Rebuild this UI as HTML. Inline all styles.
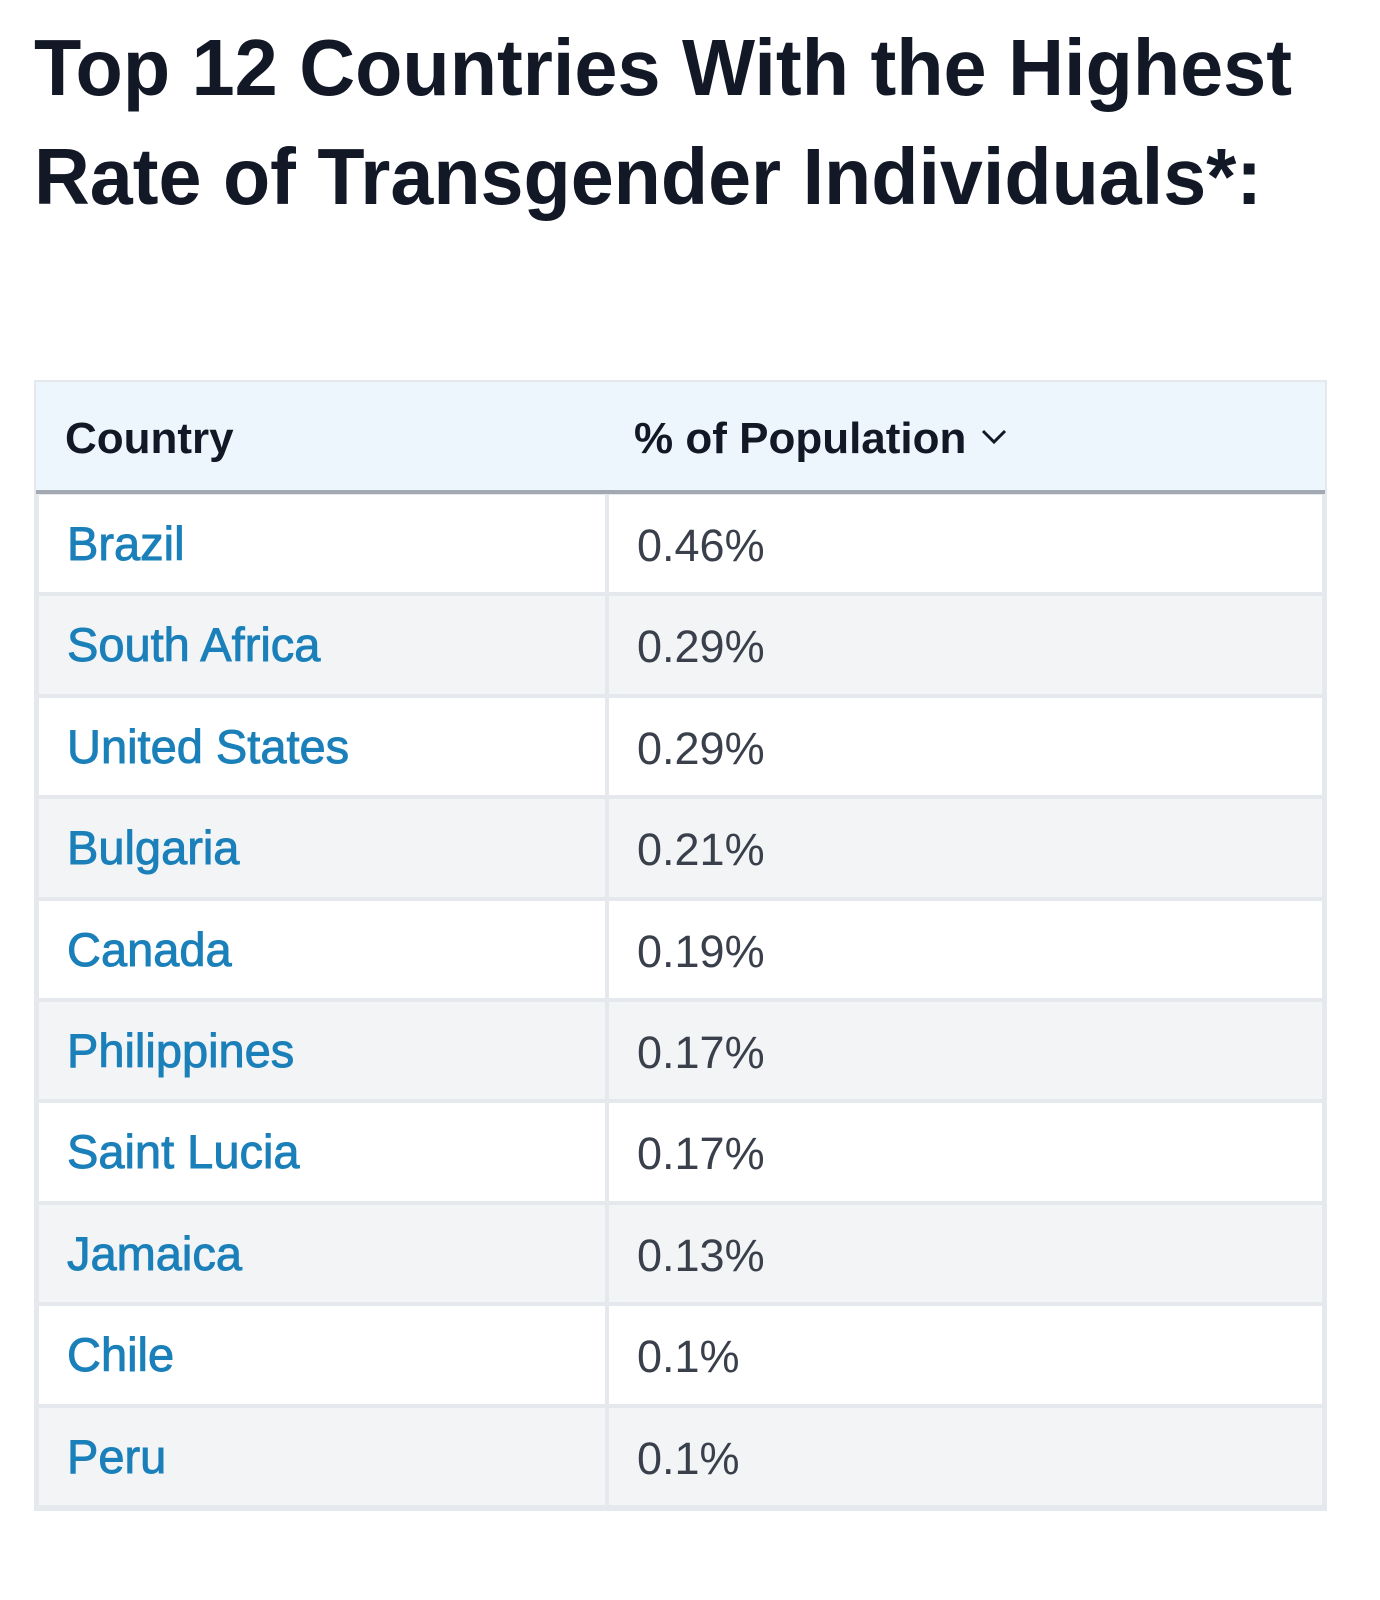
<!DOCTYPE html>
<html><head><meta charset="utf-8">
<style>
body{margin:0;width:1380px;height:1600px;background:#fff;position:relative;overflow:hidden;font-family:"Liberation Sans",sans-serif}
.abs{position:absolute}
.cell{position:absolute;box-sizing:border-box}
.txt{position:absolute;white-space:nowrap;line-height:1}
</style></head><body>
<svg class="abs" style="left:0;top:0" width="1380" height="240">
<text x="34" y="95" font-family="Liberation Sans, sans-serif" font-weight="bold" font-size="80" fill="#121826" textLength="1258" lengthAdjust="spacingAndGlyphs">Top 12 Countries With the Highest</text>
<text x="34" y="204" font-family="Liberation Sans, sans-serif" font-weight="bold" font-size="80" fill="#121826" textLength="1228" lengthAdjust="spacingAndGlyphs">Rate of Transgender Individuals*:</text>
</svg>
<div id="table" class="abs" style="left:34px;top:380px;width:1293px;height:1131px;background:#e5e8ec">
  <div class="cell" style="left:2px;top:2px;width:1289px;height:108px;background:#eef6fd"></div>
  <div class="cell" style="left:2px;top:110px;width:1289px;height:4px;background:#a3a9b2"></div>
  <div class="txt" style="left:31px;top:37px;font-size:44px;font-weight:bold;color:#121826">Country</div>
  <div class="txt" style="left:600px;top:37px;font-size:44px;font-weight:bold;color:#121826">% of Population</div>
  <svg class="abs" style="left:946px;top:48px" width="28" height="18"><polyline points="3,3 14,14 25,3" fill="none" stroke="#121826" stroke-width="3"/></svg>
</div>
<script>
const countries=["Brazil","South Africa","United States","Bulgaria","Canada","Philippines","Saint Lucia","Jamaica","Chile","Peru"];
const values=[0.46,0.29,0.29,0.21,0.19,0.17,0.17,0.13,0.1,0.1];
const table=document.getElementById('table');
const top0=115, pitch=101.4;
countries.forEach((c,i)=>{
  const y=top0+i*pitch;
  const bg=i%2===0?'#ffffff':'#f2f4f6';
  const a=document.createElement('div');
  a.className='cell';
  
  
  a.style.cssText=`left:5px;top:${y}px;width:566px;height:${pitch-4}px;background:${bg}`;
  table.appendChild(a);
  const b=document.createElement('div');
  b.className='cell';
  
  
  b.style.cssText=`left:575px;top:${y}px;width:713px;height:${pitch-4}px;background:${bg}`;
  table.appendChild(b);
  const t=document.createElement('div');
  t.className='txt';
  
  
  t.textContent=c;
  t.style.cssText=`left:33px;top:${y+25}px;font-size:47px;color:#1b80b9;-webkit-text-stroke:0.9px #1b80b9`;
  table.appendChild(t);
  const v=document.createElement('div');
  v.className='txt';
  
  
  v.textContent=values[i]+'%';
  v.style.cssText=`left:603px;top:${y+28}px;font-size:45px;color:#3a404b`;
  table.appendChild(v);
});
</script>
</body></html>
